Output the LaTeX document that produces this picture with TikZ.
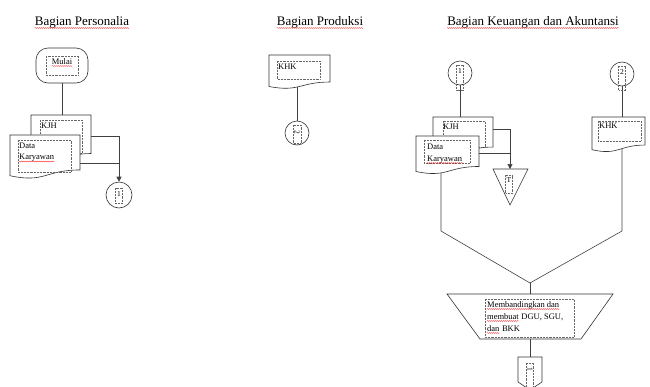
\documentclass[tikz,border=0pt]{standalone}
\usepackage{fontspec}
\setmainfont{Liberation Serif}
\usetikzlibrary{arrows.meta,decorations.pathmorphing}
\pgfdeclarelayer{bg}
\pgfsetlayers{bg,main}
\tikzset{
  box/.style={draw=black!80,line width=0.6pt,fill=white},
  wire/.style={draw=black!75,line width=0.6pt},
  inbox/.style={draw=black!60,densely dotted,line width=0.45pt},
  lbl/.style={font=\fontsize{8.5}{12}\selectfont,inner sep=0pt,anchor=base west},
  ttl/.style={font=\fontsize{13}{15}\selectfont,inner sep=0pt,anchor=base},
  squig/.style={draw=red!85,line width=0.35pt,decorate,decoration={snake,segment length=2pt,amplitude=0.45pt}},
  conn/.style={circle,box,minimum size=24pt,inner sep=0pt},
  tinytxt/.style={font=\fontsize{7.5}{7.5}\selectfont,inner sep=0pt},
  pics/docu/.style n args={2}{code={
    \draw[box] (0,0) -- (#1,0) -- (#1,{0.802*#2})
      .. controls ({#1/2},{0.802*#2}) and ({#1/2},{1.108*#2}) .. (0,{0.934*#2}) -- cycle;
  }}
}
\begin{document}
\begin{tikzpicture}[x=1pt,y=-1pt]
\useasboundingbox (0,0) rectangle (650,386);

% titles
\node[ttl] (t1) at (82,25) {Bagian Personalia};
\node[ttl] (t2) at (320,25) {Bagian Produksi};
\node[ttl] (t3) at (533,25) {Bagian Keuangan dan Akuntansi};
\foreach \t in {t1,t2,t3}
  \draw[squig] ([yshift=-3pt]\t.base west) -- ([yshift=-3pt]\t.base east);

% ---------------- Personalia ----------------
\node[box,rounded corners=12pt,minimum width=52pt,minimum height=35pt,inner sep=0pt] (mulai) at (62,65.5) {};
\draw[inbox] (46,56) rectangle (78,75);
\node[lbl,anchor=base] (mulaitxt) at (62,64) {Mulai};
\draw[squig] ([yshift=-2pt]mulaitxt.base west) -- ([yshift=-2pt]mulaitxt.base east);

\coordinate (kjhPtop) at (62,115);
\coordinate (kjhPr) at (91,136);
\coordinate (dkPr) at (80,163);
\coordinate (jP) at (119,163);
\pic at (31,115) {docu={60}{48}};
\draw[inbox] (40,120) rectangle (82,153);
\node[lbl] (kjhP) at (41,128) {KJH};
\pic at (10,135) {docu={70}{43.6}};
\draw[inbox] (18,140) rectangle (71,172);
\node[lbl] (dkP1) at (19,148) {Data};
\node[lbl] (dkP2) at (19,159.5) {Karyawan};
\draw[squig] ([yshift=-2pt]dkP2.base west) -- ([yshift=-2pt]dkP2.base east);

\node[conn,minimum size=26pt] (c1) at (119,195) {};
\draw[inbox] (115.5,188) rectangle (122.5,203);
\node[tinytxt] at (119,194) {1};

% ---------------- Produksi ----------------
\coordinate (khkPb) at (297,80);
\pic at (269,55) {docu={61}{33.7}};
\draw[inbox] (277,61) rectangle (320,79);
\node[lbl] (khkP) at (278,69) {KHK};
\node[conn] (c2) at (297,133) {};
\draw[inbox] (293,125) rectangle (301,143);
\node[tinytxt,rotate=-90] at (297,132) {2};

% ---------------- Keuangan ----------------
\node[conn] (c3) at (460,73) {};
\node[conn] (c4) at (622,74) {};
\coordinate (kjhKtop) at (460,117);
\coordinate (kjhKr) at (493,129);
\coordinate (dkKr) at (479,153);
\coordinate (jK) at (510,153);
\coordinate (triT) at (510,169);
\coordinate (dkKb) at (441,165);
\coordinate (khkKb) at (622,140);
\coordinate (lbend) at (441,231);
\coordinate (rbend) at (622,231);
\coordinate (merge) at (530,283);
\coordinate (trapT) at (530,294);
\coordinate (trapB) at (530,339);
\coordinate (offT) at (530,357);

\pic at (433,117) {docu={60}{37.5}};
\draw[inbox] (443,121) rectangle (485,147);
\node[lbl] (kjhK) at (443,129) {KJH};
\pic at (416,136) {docu={63}{38}};
\draw[inbox] (424,140) rectangle (470,163);
\node[lbl] (dkK1) at (427,149) {Data};
\node[lbl] (dkK2) at (427,161) {Karyawan};
\draw[squig] ([yshift=-2pt]dkK2.base west) -- ([yshift=-2pt]dkK2.base east);

\pic at (592,117) {docu={53}{35}};
\draw[inbox] (598,121) rectangle (641,141);
\node[lbl] (khkK) at (599,128) {KHK};

\draw[inbox] (456.5,65) rectangle (463.5,90);
\node[tinytxt] at (460,71) {1};
\draw[inbox] (618.5,66) rectangle (625.5,90);
\node[tinytxt] at (622,72) {2};

\draw[box] (493,169) -- (528,169) -- (510,205) -- cycle;
\draw[inbox] (505.5,175) rectangle (512.5,193);
\node[tinytxt] at (509,180) {T};

\draw[box] (447,294) -- (613,294) -- (581,339) -- (480,339) -- cycle;
\draw[inbox] (485,299) rectangle (574,337);
\node[lbl] (m1) at (487,307) {Membandingkan dan};
\node[lbl] (m2a) at (487,319) {membuat};
\node[lbl] (m2b) at (m2a.base east) {\ DGU, SGU,};
\node[lbl] (m3a) at (487,331) {dan};
\node[lbl] (m3b) at (m3a.base east) {\ BKK};
\draw[squig] ([yshift=-2pt]m1.base west) -- ([yshift=-2pt]m1.base east);
\draw[squig] ([yshift=-2pt]m2a.base west) -- ([yshift=-2pt]m2a.base east);
\draw[squig] ([yshift=-2pt]m3a.base west) -- ([yshift=-2pt]m3a.base east);

\draw[box] (518,357) -- (542,357) -- (542,382) -- (530,390) -- (518,382) -- cycle;
\draw[inbox] (526.5,363) rectangle (533.5,390);
\node[tinytxt,rotate=-90] at (530,369) {1};

% ---------------- connectors ----------------
\begin{pgfonlayer}{bg}
\draw[wire] (mulai.south) -- (kjhPtop);
\draw[wire,-{Triangle[length=5pt,width=5pt]}] (kjhPr) -| (c1.north);
\draw[wire] (dkPr) -- (jP);
\draw[wire] (khkPb) -- (c2.north);
\draw[wire] (c3.south) -- (kjhKtop);
\draw[wire] (c4.south) -- (khkKb);
\draw[wire,-{Triangle[length=5pt,width=5pt]}] (kjhKr) -| (triT);
\draw[wire] (dkKr) -- (jK);
\draw[wire] (dkKb) -- (lbend) -- (merge);
\draw[wire] (khkKb) -- (rbend) -- (merge);
\draw[wire] (merge) -- (trapT);
\draw[wire] (trapB) -- (offT);
\end{pgfonlayer}
\end{tikzpicture}
\end{document}
